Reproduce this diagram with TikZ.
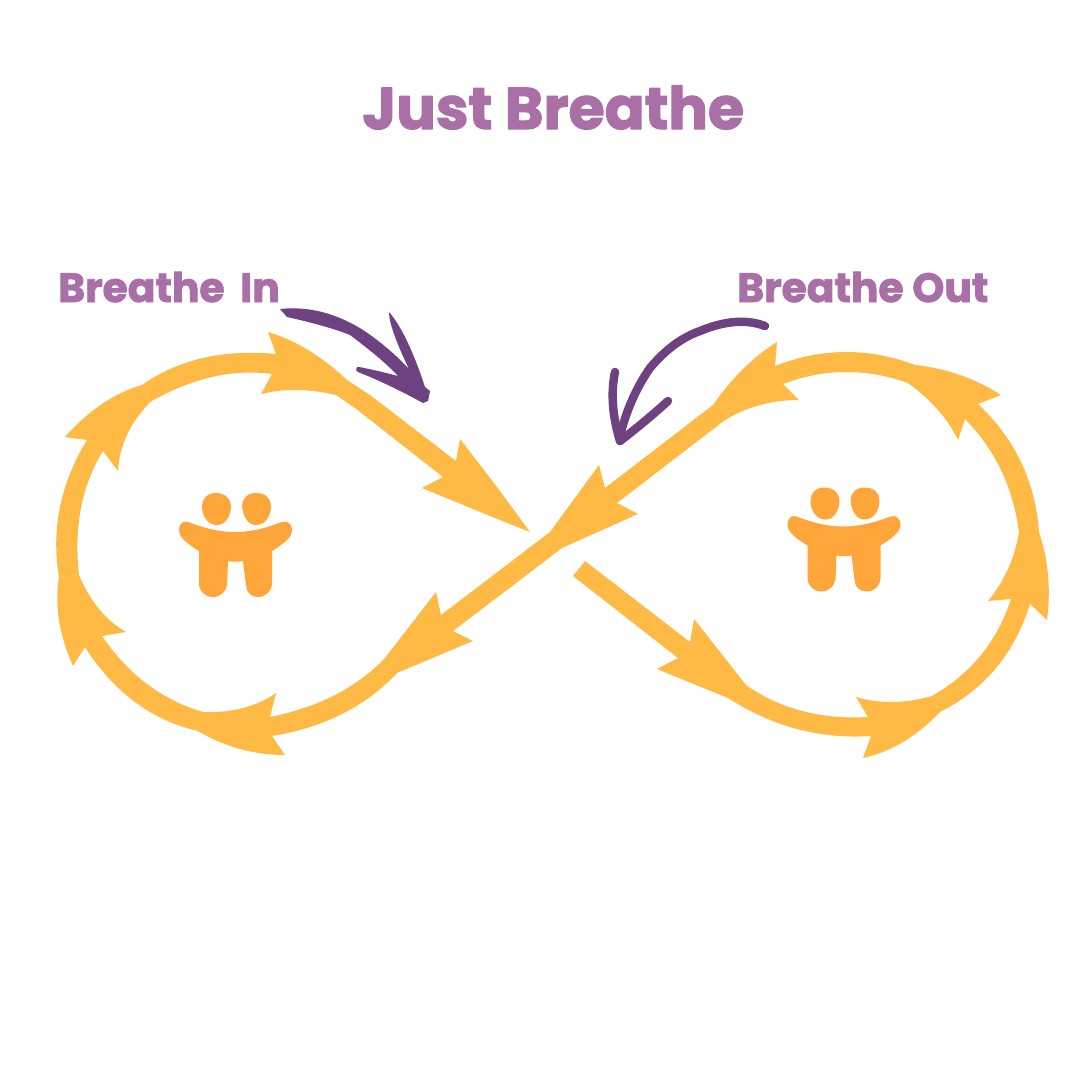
\documentclass[tikz,border=0pt]{standalone}
\usepackage{fontspec}
\usetikzlibrary{calc}
\newfontfamily\rndfont[UprightFont=* Bold,FakeBold=2]{Poppins}
\definecolor{flow}{HTML}{FFB945}
\definecolor{buddy}{HTML}{FFA63B}
\definecolor{plum}{HTML}{6E4180}
\definecolor{lilac}{HTML}{A96FA6}
\newcommand{\rndjoin}{\special{pdf:code 1 j 1 J}}
\tikzset{
  flowarrow/.style={fill=flow,draw=none},
  thru/.style={to path={.. controls ($(#1)!-0.33333!(\tikztotarget)$) and ($(#1)!-0.33333!(\tikztostart)$) .. (\tikztotarget)}},
  titletext/.style={font=\rndfont\fontsize{33.4}{36}\selectfont,text=lilac,inner sep=0pt,anchor=base west},
  labeltext/.style={font=\rndfont\fontsize{23.2}{28}\selectfont,text=lilac,inner sep=0pt,anchor=base west},
  pointer/.style={draw=plum,line width=4.8pt,line cap=round,line join=round},
  pics/pair/.style={code={
    \fill[buddy] (-19,-32) .. controls (-28,-32) and (-33,-26) .. (-33,-19) .. controls (-33,-10) and (-28,0) .. (-18,0)
       .. controls (-9,0) and (-4,-10) .. (-4,-19) .. controls (-4,-26) and (-10,-32) .. (-19,-32) -- cycle;
    \fill[buddy] (21,-32) .. controls (12,-32) and (7,-26) .. (7,-19) .. controls (8,-10) and (12,0) .. (21,0)
       .. controls (31,0) and (36,-10) .. (36,-19) .. controls (36,-26) and (31,-32) .. (21,-32) -- cycle;
    \fill[buddy] (-47,-3) .. controls (-26,5) and (-12,7) .. (0,7) .. controls (12,7) and (26,5) .. (47,-3)
       .. controls (53,-5) and (57,0) .. (57,5) .. controls (57,13) and (48,19) .. (37,26)
       -- (37,58) .. controls (37,66) and (31,72) .. (23,72) .. controls (16,72) and (11,67) .. (11,60)
       -- (8,36) .. controls (3,37) and (-3,37) .. (-7,36)
       -- (-8,60) .. controls (-9,66) and (-14,72) .. (-22,72) .. controls (-30,72) and (-36,66) .. (-36,58)
       -- (-36,26) .. controls (-47,19) and (-56,13) .. (-56,5) .. controls (-56,0) and (-53,-5) .. (-47,-3) -- cycle;
  }}
}
\begin{document}
\begin{tikzpicture}[x=0.02cm,y=-0.02cm]
\fill[white] (0,0) rectangle (1080,1080);
\useasboundingbox (0,0) rectangle (1080,1080);

% Top-left arrow running into the big "in" arrow
\fill[flowarrow] (268,332) to[thru={308,350}] (347,380)
  -- (370,395) -- (456,461) -- (460,439) -- (497,487) -- (530,532)
  -- (490,516) -- (422,488) -- (443,477) -- (355,408) -- (336,395)
  to[thru={297,390}] (261,394)
  -- (272,374) to[thru={212,377}] (150,402)
  -- (142,385) to[thru={203,358}] (276,354) -- cycle;

% Upper left quadrant
\fill[flowarrow] (65,437) to[thru={102,404}] (142,385)
  -- (150,402) to[thru={127,435}] (118,471)
  -- (103,451) to[thru={81,508}] (79,575)
  -- (59,577) to[thru={60,507}] (87,440) -- cycle;

% Lower left quadrant
\fill[flowarrow] (79,575) to[thru={99,609}] (126,632)
  -- (102,636) to[thru={147,684}] (203,712)
  -- (198,731) to[thru={135,702}] (85,647)
  -- (73,666) to[thru={59,620}] (59,577) -- cycle;

% Bottom arrow
\fill[flowarrow] (203,712) to[thru={243,708}] (276,693)
  -- (270,717) to[thru={335,695}] (385,658)
  -- (436,592) -- (441,615) -- (550,532) -- (562,548) -- (453,631) -- (473,641) -- (397,673)
  to[thru={342,714}] (272,736)
  -- (285,755) to[thru={240,749}] (198,731) -- cycle;

% Centre arrow, pointing down-left, with upper right shaft
\fill[flowarrow] (550,532) -- (599,465) -- (605,488) -- (713,405)
  to[thru={743,369}] (777,342)
  -- (775,366) to[thru={845,352}] (915,365)
  -- (908,383) to[thru={845,372}] (783,384)
  -- (799,400) to[thru={760,405}] (725,420)
  -- (617,503) -- (638,514) -- (562,548) -- cycle;

% Upper right quadrant
\fill[flowarrow] (915,365) to[thru={960,375}] (1001,395)
  -- (978,404) to[thru={1021,462}] (1039,532)
  -- (1019,532) to[thru={1001,470}] (965,419)
  -- (958,440) to[thru={938,410}] (908,383) -- cycle;

% Lower right quadrant
\fill[flowarrow] (1039,532) to[thru={1048,575}] (1047,620)
  -- (1030,604) to[thru={996,668}] (940,712)
  -- (932,696) to[thru={981,655}] (1011,599)
  -- (988,601) to[thru={1008,569}] (1019,532) -- cycle;

% Bottom right arrow and the free shaft
\fill[flowarrow] (940,712) to[thru={903,742}] (863,758)
  -- (871,736) to[thru={797,729}] (728,698)
  -- (657,669) -- (678,658) -- (573,576) -- (585,561) -- (690,642) -- (694,619) -- (746,685)
  to[thru={802,711}] (868,717)
  -- (856,697) to[thru={893,702}] (932,696) -- cycle;

% Purple pointers
\fill[plum] (280,309) to[thru={322,312}] (363,330)
  to[thru={387,348}] (409,369)
  to[thru={394,334}] (389,312)
  to[thru={407,341}] (425,387)
  -- (430,391) -- (428,401) -- (423,403)
  to[thru={390,386}] (358,372)
  .. controls (355,371) and (356,366) .. (359,367)
  to[thru={378,371}] (398,376)
  to[thru={379,358}] (350,335)
  to[thru={323,326}] (287,317) -- cycle;
\draw[pointer] (765,326) to[thru={735,322}] (700,331) to[thru={674,345}] (650,368) to[thru={633,398}] (621,432);
\draw[pointer] (615,372) to[thru={613,405}] (620,441);
\draw[pointer] (668,401) to[thru={645,421}] (620,441);

% People
\pic at (235,525) {pair};
\pic at (843.5,519.5) {pair};

% Texts
\node[titletext] (title) at (362,129) {\rndjoin Just Breathe};
\node[labeltext] (inlabel) at (58,302) {\rndjoin Breathe\hspace{9pt}In};
\node[labeltext] (outlabel) at (737,302) {\rndjoin Breathe\hspace{5pt}Out};
\end{tikzpicture}
\end{document}
